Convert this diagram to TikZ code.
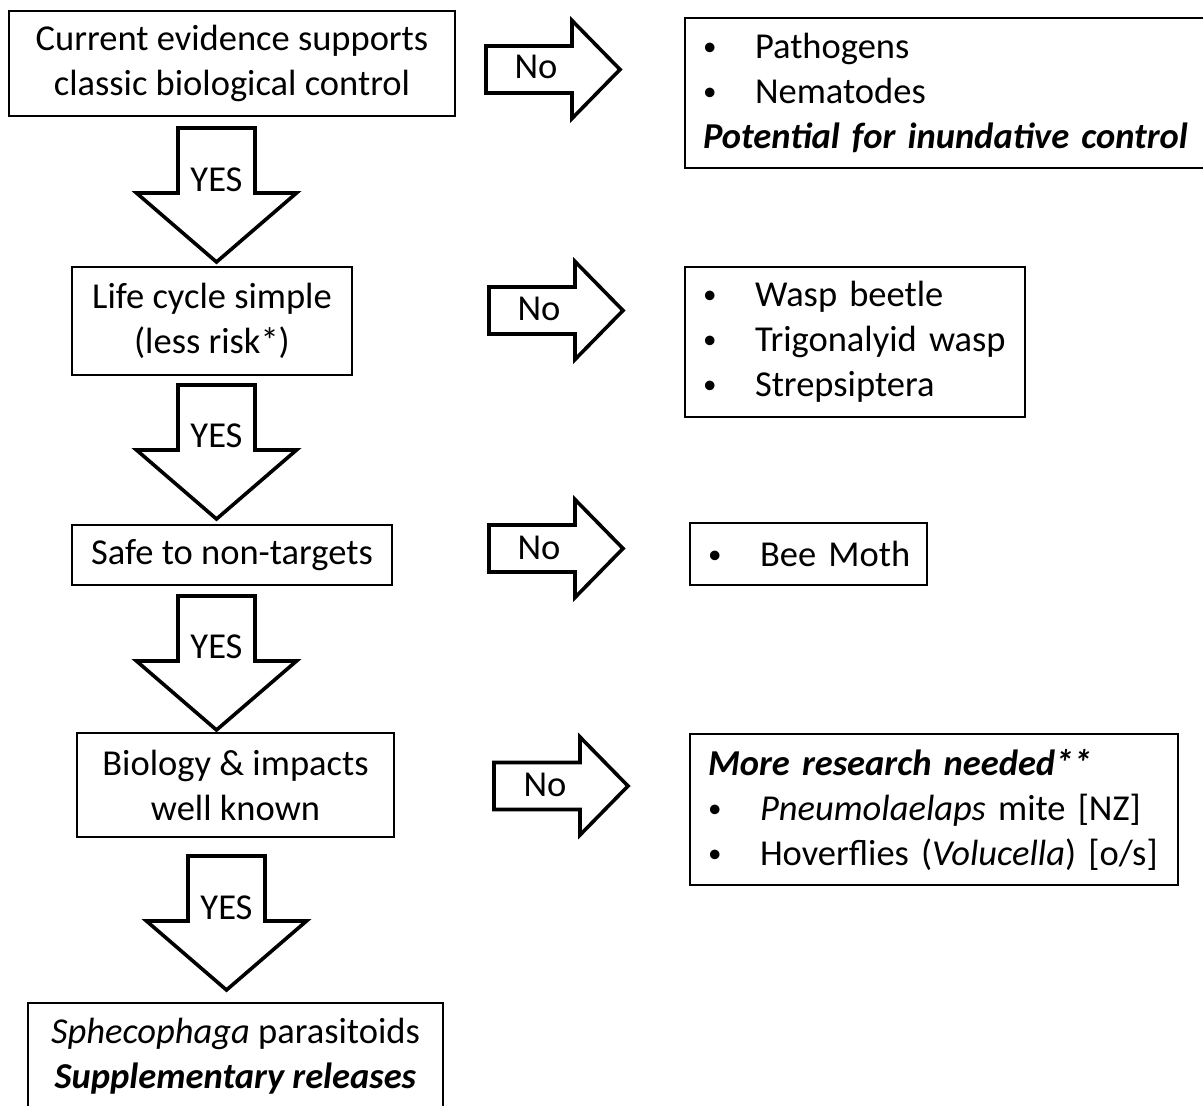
\documentclass[tikz,border=0pt]{standalone}
\usepackage{fontspec}
\setmainfont{Carlito}
\newcommand{\bul}{\makebox[52pt][l]{\raisebox{3pt}{\fontsize{27}{27}\selectfont\textbullet}}}
\newcommand{\bitem}[1]{\mbox{\bul #1}}
\begin{document}
\begin{tikzpicture}[x=1pt,y=-1pt,
  box/.style={draw=black, line width=1.3pt, inner sep=0pt, font=\fontsize{36.5}{45}\selectfont},
  lbox/.style={box, align=center},
  rbox/.style={box, align=left, inner xsep=18pt, text width=#1},
  blk/.style={draw=black, line width=3.6pt, line join=miter, fill=white},
  lbl/.style={font=\fontsize{36.5}{42}\selectfont, inner sep=0pt},
  yesarrow/.pic={\path[blk] (-38.5,0) -- (38.5,0) -- (38.5,65) -- (80,65) -- (0,134) -- (-80,65) -- (-38.5,65) -- cycle;},
  noarrow/.pic={\path[blk] (0,-23.5) -- (86,-23.5) -- (86,-49) -- (134,0) -- (86,49) -- (86,23.5) -- (0,23.5) -- cycle;}
]
\useasboundingbox (0,0) rectangle (1203,1106);
% left column boxes
\node[lbox, minimum width=446, minimum height=105] (b1) at (232,63.5) {Current evidence supports\\classic biological control};
\node[lbox, minimum width=280, minimum height=108] (b2) at (212,321) {Life cycle simple\\(less risk*)};
\node[lbox, minimum width=320, minimum height=60] (b3) at (232,555) {Safe to non-targets};
\node[lbox, minimum width=317, minimum height=104] (b4) at (235.5,785) {Biology \& impacts\\well known};
\node[lbox, minimum width=415, minimum height=107] (b5) at (235.5,1056.5) {\textit{Sphecophaga} parasitoids\\\textbf{\textit{Supplementary releases}}};
% right column boxes
\node[rbox=485, minimum height=150] (r1) at (945.5,93) {\bitem{Pathogens}\\\bitem{Nematodes}\\\mbox{\textbf{\textit{Potential for inundative control}}}};
\node[rbox=304, minimum height=150] (r2) at (855,342) {\bitem{Wasp beetle}\\\bitem{Trigonalyid wasp}\\\bitem{Strepsiptera}};
\node[rbox=201, minimum height=62] (r3) at (808.5,554) {\bitem{Bee Moth}};
\node[rbox=452, minimum height=151] (r4) at (934,809.5) {\mbox{\textbf{\textit{More research needed**}}}\\\bitem{\textit{Pneumolaelaps} mite [NZ]}\\\bitem{Hoverflies (\textit{Volucella}) [o/s]}};
% YES arrows
\pic at (216.5,128) {yesarrow};
\node[lbl] (y1) at (216.5,180) {YES};
\pic at (216.5,385) {yesarrow};
\node[lbl] (y2) at (216.5,436) {YES};
\pic at (216.5,596) {yesarrow};
\node[lbl] (y3) at (216.5,647) {YES};
\pic at (226.5,856) {yesarrow};
\node[lbl] (y4) at (226.5,908) {YES};
% No arrows
\pic at (486,69.5) {noarrow};
\node[lbl] (n1) at (536,67) {No};
\pic at (489,310.5) {noarrow};
\node[lbl] (n2) at (539,309) {No};
\pic at (489,548.5) {noarrow};
\node[lbl] (n3) at (539,548) {No};
\pic at (494,786) {noarrow};
\node[lbl] (n4) at (545,785) {No};
\end{tikzpicture}
\end{document}
